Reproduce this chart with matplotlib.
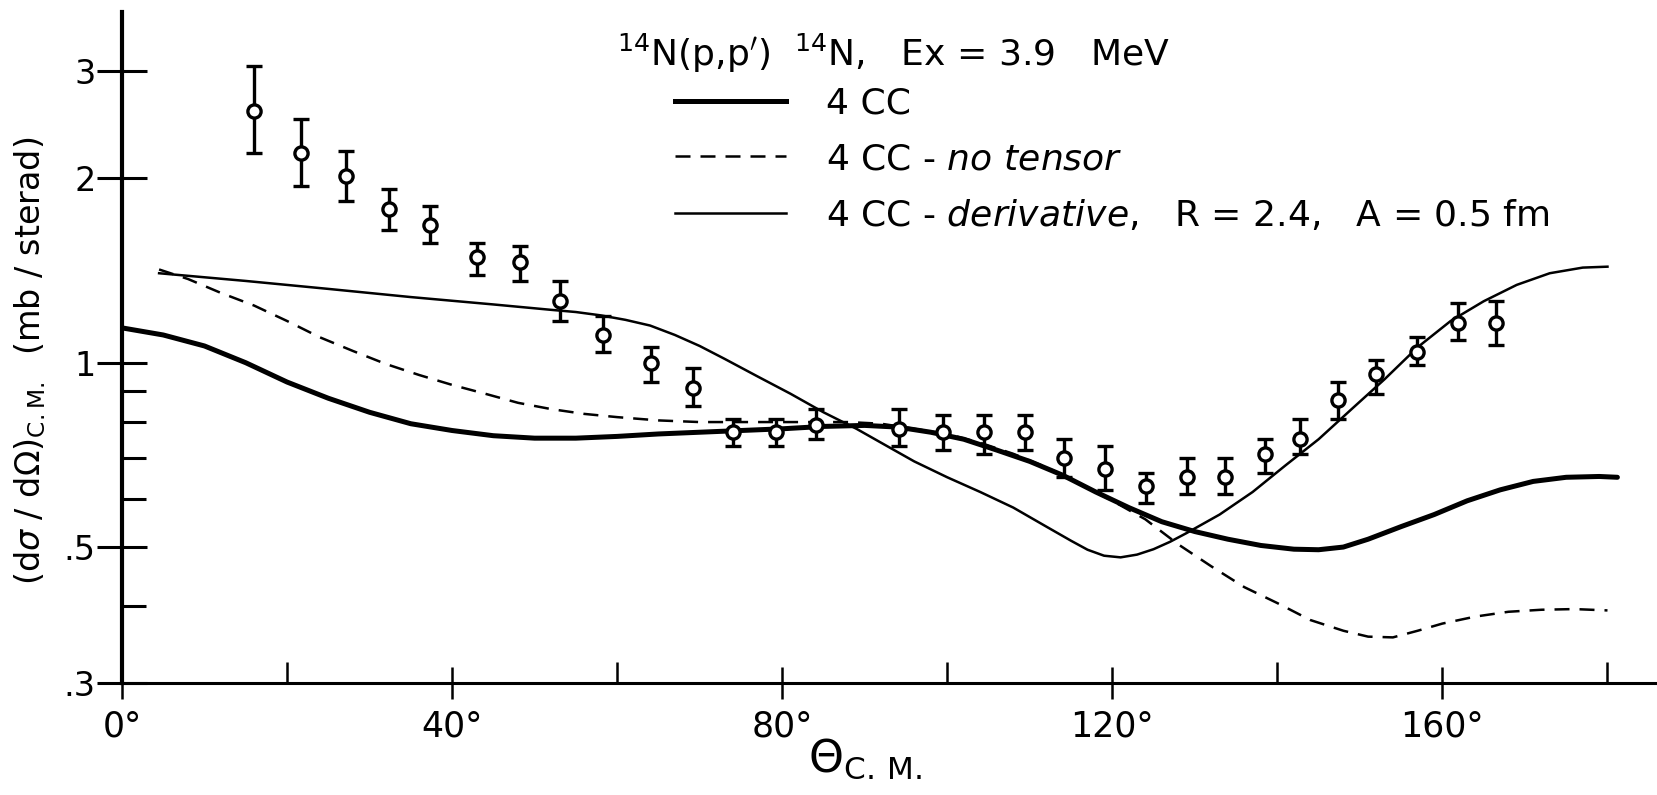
import numpy as np
import matplotlib
matplotlib.use("Agg")
import matplotlib.pyplot as plt
from matplotlib.ticker import FixedLocator, FixedFormatter
from matplotlib.lines import Line2D

plt.rcParams['font.family'] = ['DejaVu Sans']
plt.rcParams['mathtext.fontset'] = 'dejavusans'

# measured points (theta C.M. in degrees, cross section mb/sr)
theta_exp = [16.0, 21.7, 27.1, 32.4, 37.3, 43.0, 48.2, 53.1, 58.3, 64.1,
             69.2, 74.0, 79.2, 84.1, 94.1, 99.5, 104.4, 109.4, 114.2, 119.1,
             124.1, 129.0, 133.7, 138.5, 142.7, 147.3, 151.9, 156.9, 161.9, 166.5]
sigma_exp = [2.58, 2.20, 2.02, 1.78, 1.68, 1.49, 1.46, 1.26, 1.11, 1.00,
             0.91, 0.77, 0.77, 0.79, 0.78, 0.77, 0.77, 0.77, 0.70, 0.67,
             0.63, 0.65, 0.65, 0.71, 0.75, 0.87, 0.96, 1.04, 1.16, 1.16]
sigma_hi = [3.05, 2.50, 2.22, 1.92, 1.80, 1.57, 1.55, 1.36, 1.19, 1.06,
            0.98, 0.81, 0.81, 0.84, 0.84, 0.82, 0.82, 0.82, 0.75, 0.73,
            0.66, 0.70, 0.70, 0.75, 0.81, 0.93, 1.01, 1.10, 1.25, 1.26]
sigma_lo = [2.20, 1.94, 1.84, 1.65, 1.57, 1.39, 1.36, 1.17, 1.04, 0.93,
            0.85, 0.73, 0.73, 0.75, 0.73, 0.72, 0.71, 0.72, 0.65, 0.62,
            0.59, 0.61, 0.61, 0.66, 0.71, 0.81, 0.89, 0.99, 1.09, 1.07]

# 4 CC (thick)
theta_cc = [0, 5, 10, 15, 20, 25, 30, 35, 40, 45, 50, 55, 60, 65, 70, 75, 80, 85,
            90, 94, 98, 102, 106, 110, 114, 118, 122, 126, 130, 134, 138, 142,
            145, 148, 151, 155, 159, 163, 167, 171, 175, 179, 181.2]
sigma_cc = [1.14, 1.11, 1.065, 1.00, 0.93, 0.875, 0.83, 0.795, 0.775, 0.76, 0.753,
            0.753, 0.758, 0.765, 0.77, 0.775, 0.78, 0.787, 0.79, 0.785, 0.77, 0.75,
            0.72, 0.69, 0.655, 0.615, 0.58, 0.55, 0.53, 0.515, 0.503, 0.496, 0.495,
            0.50, 0.515, 0.54, 0.565, 0.595, 0.62, 0.64, 0.65, 0.652, 0.65]

# 4 CC - no tensor (dashed)
theta_nt = [4.5, 8, 12, 16, 20, 24, 28, 32, 36, 40, 44, 48, 52, 56, 60, 65, 70, 80,
            88, 92, 96, 100, 104, 108, 112, 116, 120, 124, 128, 132, 136, 140, 144,
            148, 151, 154, 157, 160, 164, 168, 172, 176, 180]
sigma_nt = [1.42, 1.37, 1.30, 1.24, 1.17, 1.10, 1.045, 0.995, 0.955, 0.92, 0.89,
            0.86, 0.84, 0.825, 0.815, 0.805, 0.80, 0.80, 0.80, 0.795, 0.78, 0.765,
            0.74, 0.71, 0.675, 0.635, 0.595, 0.555, 0.505, 0.465, 0.43, 0.405, 0.38,
            0.365, 0.357, 0.356, 0.365, 0.375, 0.385, 0.392, 0.395, 0.396, 0.394]

# 4 CC - derivative (thin)
theta_dv = [4.5, 15, 25, 35, 45, 52, 55, 58, 61, 64, 67, 70, 73, 77, 81, 85, 89,
            92, 96, 100, 104, 108, 112, 115, 117, 119, 121, 123, 125, 127, 129,
            133, 137, 141, 145, 149, 153, 157, 161, 165, 169, 173, 177, 180]
sigma_dv = [1.40, 1.36, 1.32, 1.28, 1.245, 1.22, 1.21, 1.195, 1.175, 1.15, 1.11,
            1.065, 1.015, 0.95, 0.89, 0.83, 0.78, 0.74, 0.69, 0.65, 0.615, 0.58,
            0.54, 0.512, 0.495, 0.484, 0.481, 0.486, 0.496, 0.51, 0.527, 0.565,
            0.615, 0.68, 0.75, 0.84, 0.94, 1.06, 1.17, 1.26, 1.34, 1.40, 1.43, 1.435]

x_major = [0, 40, 80, 120, 160]
x_minor = [20, 60, 100, 140, 180]
x_labels = ['0°', '40°', '80°', '120°', '160°']
y_major = [0.3, 0.5, 1, 2, 3]
y_minor = [0.4, 0.6, 0.7, 0.8, 0.9]
y_labels = ['.3', '.5', '1', '2', '3']

fig = plt.figure(figsize=(16.57, 7.95), dpi=100)
ax = fig.add_axes([0.0736, 0.141, 0.9264, 0.844])

ax.plot(theta_cc, sigma_cc, color='black', lw=3.6, solid_capstyle='round',
        solid_joinstyle='round')
ax.plot(theta_nt, sigma_nt, color='black', lw=1.8, dashes=(6, 4))
ax.plot(theta_dv, sigma_dv, color='black', lw=1.8, solid_joinstyle='round')

yerr = [np.array(sigma_exp) - np.array(sigma_lo), np.array(sigma_hi) - np.array(sigma_exp)]
ax.errorbar(theta_exp, sigma_exp, yerr=yerr, fmt='o', color='black', ms=9.5, mfc='white',
            mec='black', mew=2.4, elinewidth=2.4, capsize=6, capthick=2.4, zorder=5)

ax.set_yscale('log')
ax.set_xlim(0, 186)
ax.set_ylim(0.3, 3.74)

ax.xaxis.set_major_locator(FixedLocator(x_major))
ax.xaxis.set_major_formatter(FixedFormatter(x_labels))
ax.xaxis.set_minor_locator(FixedLocator(x_minor))
ax.yaxis.set_major_locator(FixedLocator(y_major))
ax.yaxis.set_major_formatter(FixedFormatter(y_labels))
ax.yaxis.set_minor_locator(FixedLocator(y_minor))
ax.yaxis.set_minor_formatter(FixedFormatter([''] * len(y_minor)))

ax.tick_params(axis='x', which='major', direction='inout', length=23, width=1.8,
               labelsize=25, pad=8)
ax.tick_params(axis='x', which='minor', direction='in', length=15, width=1.8)
ax.tick_params(axis='y', which='major', direction='inout', length=36, width=2.2,
               labelsize=24, pad=1)
ax.tick_params(axis='y', which='minor', direction='in', length=17, width=2.2)

for s in ['top', 'right']:
    ax.spines[s].set_visible(False)
ax.spines['left'].set_linewidth(3)
ax.spines['bottom'].set_linewidth(2.2)

ax.set_ylabel(r'(d$\sigma$ / d$\Omega$)$_{\mathrm{C.M.}}$  (mb / sterad)', fontsize=24)
ax.yaxis.set_label_coords(-0.048, 0.48)
ax.set_xlabel(r'$\Theta_{\mathrm{C.\,M.}}$', fontsize=32)
ax.xaxis.set_label_coords(0.484, -0.08)

ax.text(0.3225, 0.92, r"$^{14}$N(p,p$'$)  $^{14}$N,   Ex = 3.9   MeV", transform=ax.transAxes,
        fontsize=26, ha='left', va='baseline')

handles = [Line2D([], [], color='black', lw=3.6),
           Line2D([], [], color='black', lw=1.8, dashes=(6, 4)),
           Line2D([], [], color='black', lw=1.8)]
labels = ['4 CC',
          r'4 CC - $\it{no\ tensor}$',
          r'4 CC - $\it{derivative}$,   R = 2.4,   A = 0.5 fm']
ax.legend(handles, labels, loc='upper left', bbox_to_anchor=(0.3604, 0.889), frameon=False,
          fontsize=26, handlelength=3.07, handletextpad=1.1, labelspacing=0.6,
          borderpad=0, borderaxespad=0)

fig.savefig('out.png', dpi=100)
